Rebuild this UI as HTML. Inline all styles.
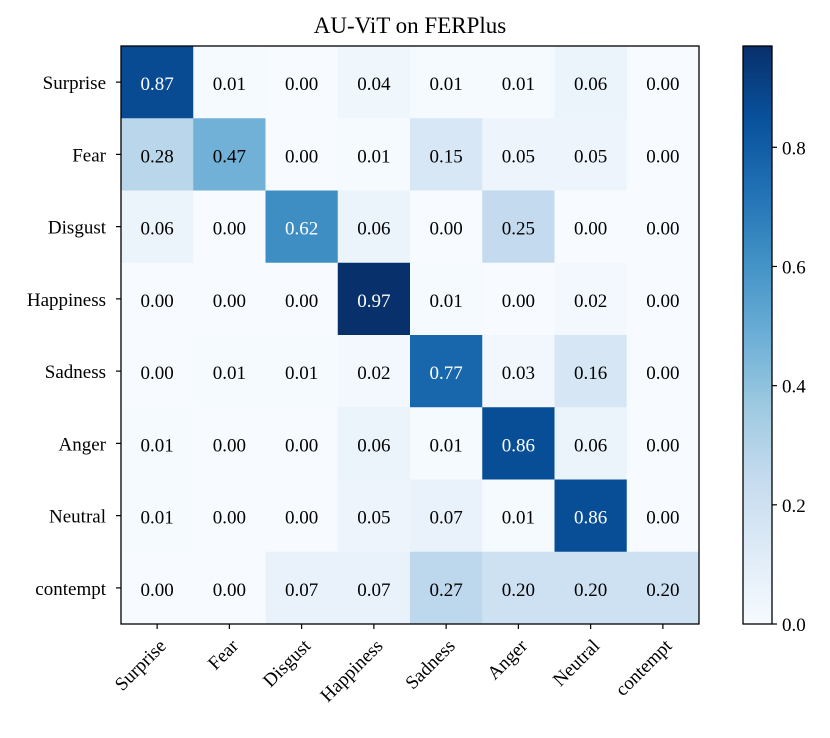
<!DOCTYPE html>
<html><head><meta charset="utf-8"><style>
body{margin:0;background:#fff;}
svg text{font-family:"Liberation Serif",serif;}
</style></head><body>
<svg id="chart" width="830" height="733" xmlns="http://www.w3.org/2000/svg">
<text x="410" y="33" font-size="23" text-anchor="middle">AU-ViT on FERPlus</text>
<g id="cells"></g>
<g id="labels"></g>
<rect x="121" y="46" width="578" height="578" fill="none" stroke="#000" stroke-width="1.3"/>
<defs><linearGradient id="cbg" x1="0" y1="1" x2="0" y2="0"></linearGradient></defs>
<rect x="743" y="46" width="29" height="578" fill="url(#cbg)" stroke="#000" stroke-width="1.3"/>
<g id="cbticks"></g>
</svg>
<script>
const categories=["Surprise","Fear","Disgust","Happiness","Sadness","Anger","Neutral","contempt"];
const row0=[0.87,0.01,0.00,0.04,0.01,0.01,0.06,0.00];
const row1=[0.28,0.47,0.00,0.01,0.15,0.05,0.05,0.00];
const row2=[0.06,0.00,0.62,0.06,0.00,0.25,0.00,0.00];
const row3=[0.00,0.00,0.00,0.97,0.01,0.00,0.02,0.00];
const row4=[0.00,0.01,0.01,0.02,0.77,0.03,0.16,0.00];
const row5=[0.01,0.00,0.00,0.06,0.01,0.86,0.06,0.00];
const row6=[0.01,0.00,0.00,0.05,0.07,0.01,0.86,0.00];
const row7=[0.00,0.00,0.07,0.07,0.27,0.20,0.20,0.20];
const matrix=[row0,row1,row2,row3,row4,row5,row6,row7];
const cbTicks=[0.0,0.2,0.4,0.6,0.8];
const NS="http://www.w3.org/2000/svg";
const L=121,T=46,S=578,n=categories.length,cw=S/n,FS=19;
const vmax=Math.max(...matrix.flat()),vmin=0;
const stops=["#f7fbff","#deebf7","#c6dbef","#9ecae1","#6baed6","#4292c6","#2171b5","#08519c","#08306b"];
function hex(h){return [1,3,5].map(i=>parseInt(h.substr(i,2),16));}
function cmap(t){t=Math.max(0,Math.min(1,t));const p=t*8,i=Math.min(7,Math.floor(p)),f=p-i;const a=hex(stops[i]),b=hex(stops[i+1]);return "rgb("+a.map((v,k)=>Math.round(v+(b[k]-v)*f)).join(",")+")";}
function xs(j){return L+j*cw;}
function ys(i){return T+i*cw;}
function cy(v){return T+S-(v-vmin)/(vmax-vmin)*S;}
function mk(tag,attrs,parent){const e=document.createElementNS(NS,tag);for(const k in attrs)e.setAttribute(k,attrs[k]);parent.appendChild(e);return e;}
const cells=document.getElementById('cells'),labels=document.getElementById('labels');
matrix.forEach((row,i)=>row.forEach((v,j)=>{
 const r=mk('rect',{x:xs(j),y:ys(i),width:cw+0.5,height:cw+0.5,fill:cmap(v/vmax)},cells);
 
 
 const t=mk('text',{x:xs(j)+cw/2,y:ys(i)+cw/2+8,'font-size':FS,'text-anchor':'middle',fill:v>vmax/2?'#fff':'#000'},labels);
 t.textContent=v.toFixed(2);
 
 
}));
categories.forEach((c,i)=>{
 const y=ys(i)+cw/2;
 const tk=mk('line',{x1:L-5,x2:L,y1:y,y2:y,stroke:'#000','stroke-width':1.2},labels);
 
 
 const t=mk('text',{x:L-15,y:y+7,'font-size':FS,'text-anchor':'end'},labels);
 t.textContent=c;
 
 
 const x=xs(i)+cw/2;
 const tk2=mk('line',{x1:x,x2:x,y1:T+S,y2:T+S+5,stroke:'#000','stroke-width':1.2},labels);
 
 
 const ax=x+10,ay=647;
 const t2=mk('text',{x:ax,y:ay,'font-size':FS,'text-anchor':'end',transform:'rotate(-45 '+ax+' '+ay+')'},labels);
 t2.textContent=c;
 
 
});
const g=document.getElementById('cbg');
stops.forEach((s,k)=>mk('stop',{offset:k/8,'stop-color':s},g));
const cbt=document.getElementById('cbticks');
cbTicks.forEach(v=>{
 const y=cy(v);
 const l=mk('line',{x1:772,x2:777,y1:y,y2:y,stroke:'#000','stroke-width':1.2},cbt);
 
 
 const t=mk('text',{x:782,y:y+7,'font-size':FS},cbt);
 t.textContent=v.toFixed(1);
 
 
});
</script>
</body></html>
